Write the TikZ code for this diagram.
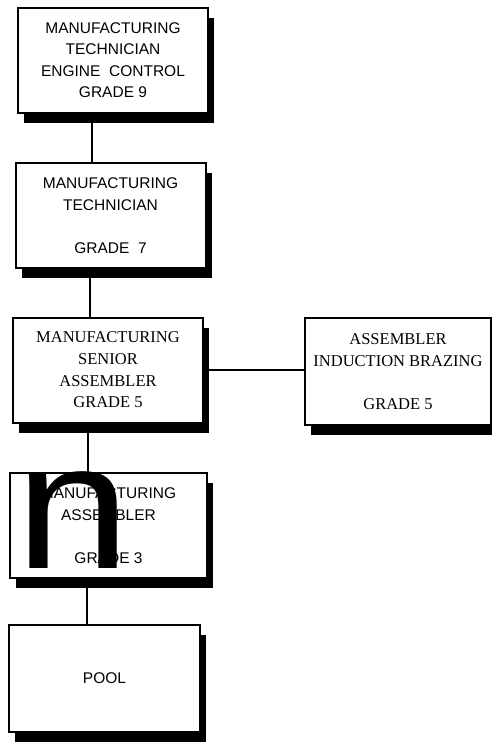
\documentclass[tikz,border=0pt]{standalone}
\usepackage{fontspec}
\usepackage{graphicx}
\setmainfont{Liberation Serif}
\setsansfont{Liberation Sans}
\usetikzlibrary{shadows}
\begin{document}
\begin{tikzpicture}[x=1pt,y=-1pt,
		job/.style={draw,line width=2pt,fill=white,minimum width=190pt,minimum height=105pt,inner sep=0pt,align=center,
			drop shadow={shadow xshift=6pt,shadow yshift=-10pt,fill=black,opacity=1}},
		sanstext/.style={font=\fontsize{15.5}{21.5}\sffamily},
		seriftext/.style={font=\fontsize{16.5}{21.7}\rmfamily},
		link/.style={line width=1.8pt}]
		\useasboundingbox (0,0) rectangle (492,742);
		\node[job,sanstext] (tech9) at (113,60) {MANUFACTURING\\TECHNICIAN\\ENGINE\ \ CONTROL\\GRADE 9};
		\node[job,sanstext] (tech7) at (110.5,215.5) {MANUFACTURING\\TECHNICIAN\\[21.5pt]GRADE\ \ 7};
		\node[job,seriftext] (senior) at (108,370) {MANUFACTURING\\SENIOR\\ASSEMBLER\\GRADE 5};
		\node[job,seriftext,minimum width=186pt,minimum height=107pt] (brazing) at (398,371.5) {ASSEMBLER\\INDUCTION BRAZING\\[21.7pt]GRADE 5};
		\node[job,sanstext,minimum width=197pt] (assembler) at (108.5,525.5) {MANUFACTURING\\ASSEMBLER\\[21.5pt]GRADE 3};
		\node[job,sanstext,minimum width=191pt,minimum height=107pt] (pool) at (104.5,678.5) {POOL};
		\node[anchor=base west,inner sep=0pt,font=\fontsize{180}{180}\sffamily] (bign) at (15,568) {\scalebox{1.15}[1]{n}};
		\draw[link] ([xshift=-21pt]tech9.south) -- ([xshift=-21pt]tech9.south |- tech7.north);
		\draw[link] ([xshift=-20.5pt]tech7.south) -- ([xshift=-20.5pt]tech7.south |- senior.north);
		\draw[link] ([xshift=-20pt]senior.south) -- ([xshift=-20pt]senior.south |- assembler.north);
		\draw[link] ([xshift=-21.5pt]assembler.south) -- ([xshift=-21.5pt]assembler.south |- pool.north);
		\draw[link] (senior.east) -- (senior.east -| brazing.west);
	\end{tikzpicture}
\end{document}
